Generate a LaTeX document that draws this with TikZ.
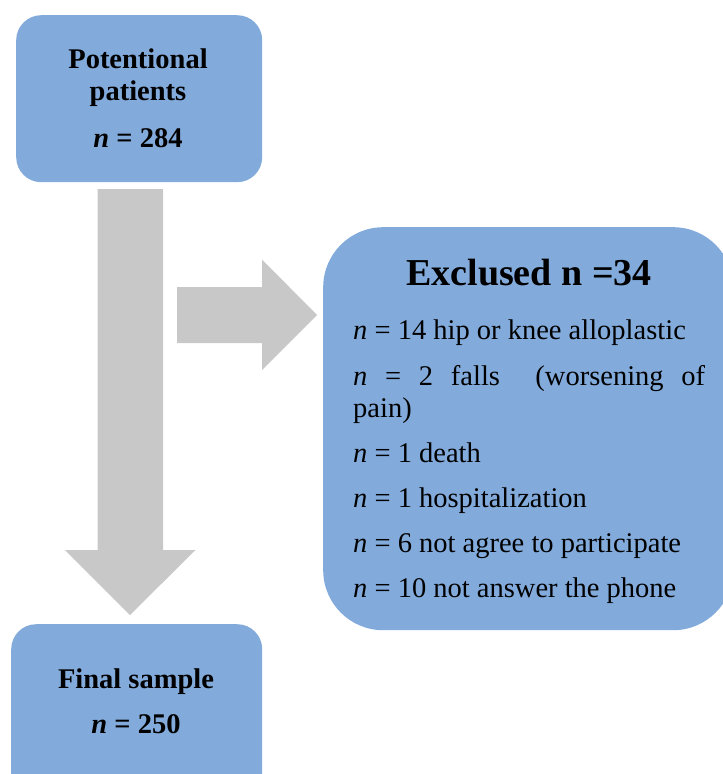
\documentclass[tikz,border=0pt]{standalone}
\usepackage{fontspec}
\setmainfont{Liberation Serif}
\definecolor{boxblue}{RGB}{130,171,220}
\definecolor{arrgray}{RGB}{200,200,200}
\tikzset{
  bluebox/.style={fill=boxblue, draw=none, rounded corners=#1, inner sep=0pt, anchor=north west},
  bigarrow/.style={fill=arrgray, draw=none},
  boldtxt/.style={anchor=base, inner sep=0pt, font=\fontsize{28.5}{34}\selectfont\bfseries},
  titletxt/.style={anchor=base, inner sep=0pt, font=\fontsize{38}{45}\selectfont\bfseries},
  itemtxt/.style={anchor=base west, inner sep=0pt, font=\fontsize{28.5}{34}\selectfont}
}
\begin{document}
\begin{tikzpicture}[x=1pt,y=-1pt]
\useasboundingbox (0,0) rectangle (723,774);
% boxes
\node[bluebox=25pt, minimum width=246pt, minimum height=167pt] (top) at (16,15) {};
\node[bluebox=25pt, minimum width=251pt, minimum height=175pt] (final) at (11,624) {};
\node[bluebox=60pt, minimum width=410pt, minimum height=403pt] (excl) at (323,227) {};
% arrows
\coordinate (dstart) at (97.5,189);
\coordinate (rstart) at (177,287);
\fill[bigarrow] (dstart) -- (163,189) -- (163,550) -- (195.5,550) -- (130,615) -- (65,550) -- (97.5,550) -- cycle;
\fill[bigarrow] (rstart) -- (262,287) -- (262,259.5) -- (317,315) -- (262,370) -- (262,343) -- (177,343) -- cycle;
% top box text
\node[boldtxt] (t1) at (138,68) {Potentional};
\node[boldtxt] (t2) at (138,100) {patients};
\node[boldtxt] (t3) at (138,147) {\textit{n} = 284};
% final box text
\node[boldtxt] (f1) at (136,688) {Final sample};
\node[boldtxt] (f2) at (136,733) {\textit{n} = 250};
% excluded box text
\node[titletxt] (e0) at (529,285) {Exclused n =34};
\node[itemtxt] (e1) at (353,339) {\textit{n} = 14 hip or knee alloplastic};
\node[itemtxt] (e2) at (353,385) {\hbox to 352pt{\textit{n}\hfill=\hfill2\hfill falls\hfill\hfill(worsening\hfill of}};
\node[itemtxt] (e2b) at (353,417) {pain)};
\node[itemtxt] (e3) at (353,462) {\textit{n} = 1 death};
\node[itemtxt] (e4) at (353,507) {\textit{n} = 1 hospitalization};
\node[itemtxt] (e5) at (353,552) {\textit{n} = 6 not agree to participate};
\node[itemtxt] (e6) at (353,597) {\textit{n} = 10 not answer the phone};
\end{tikzpicture}
\end{document}
